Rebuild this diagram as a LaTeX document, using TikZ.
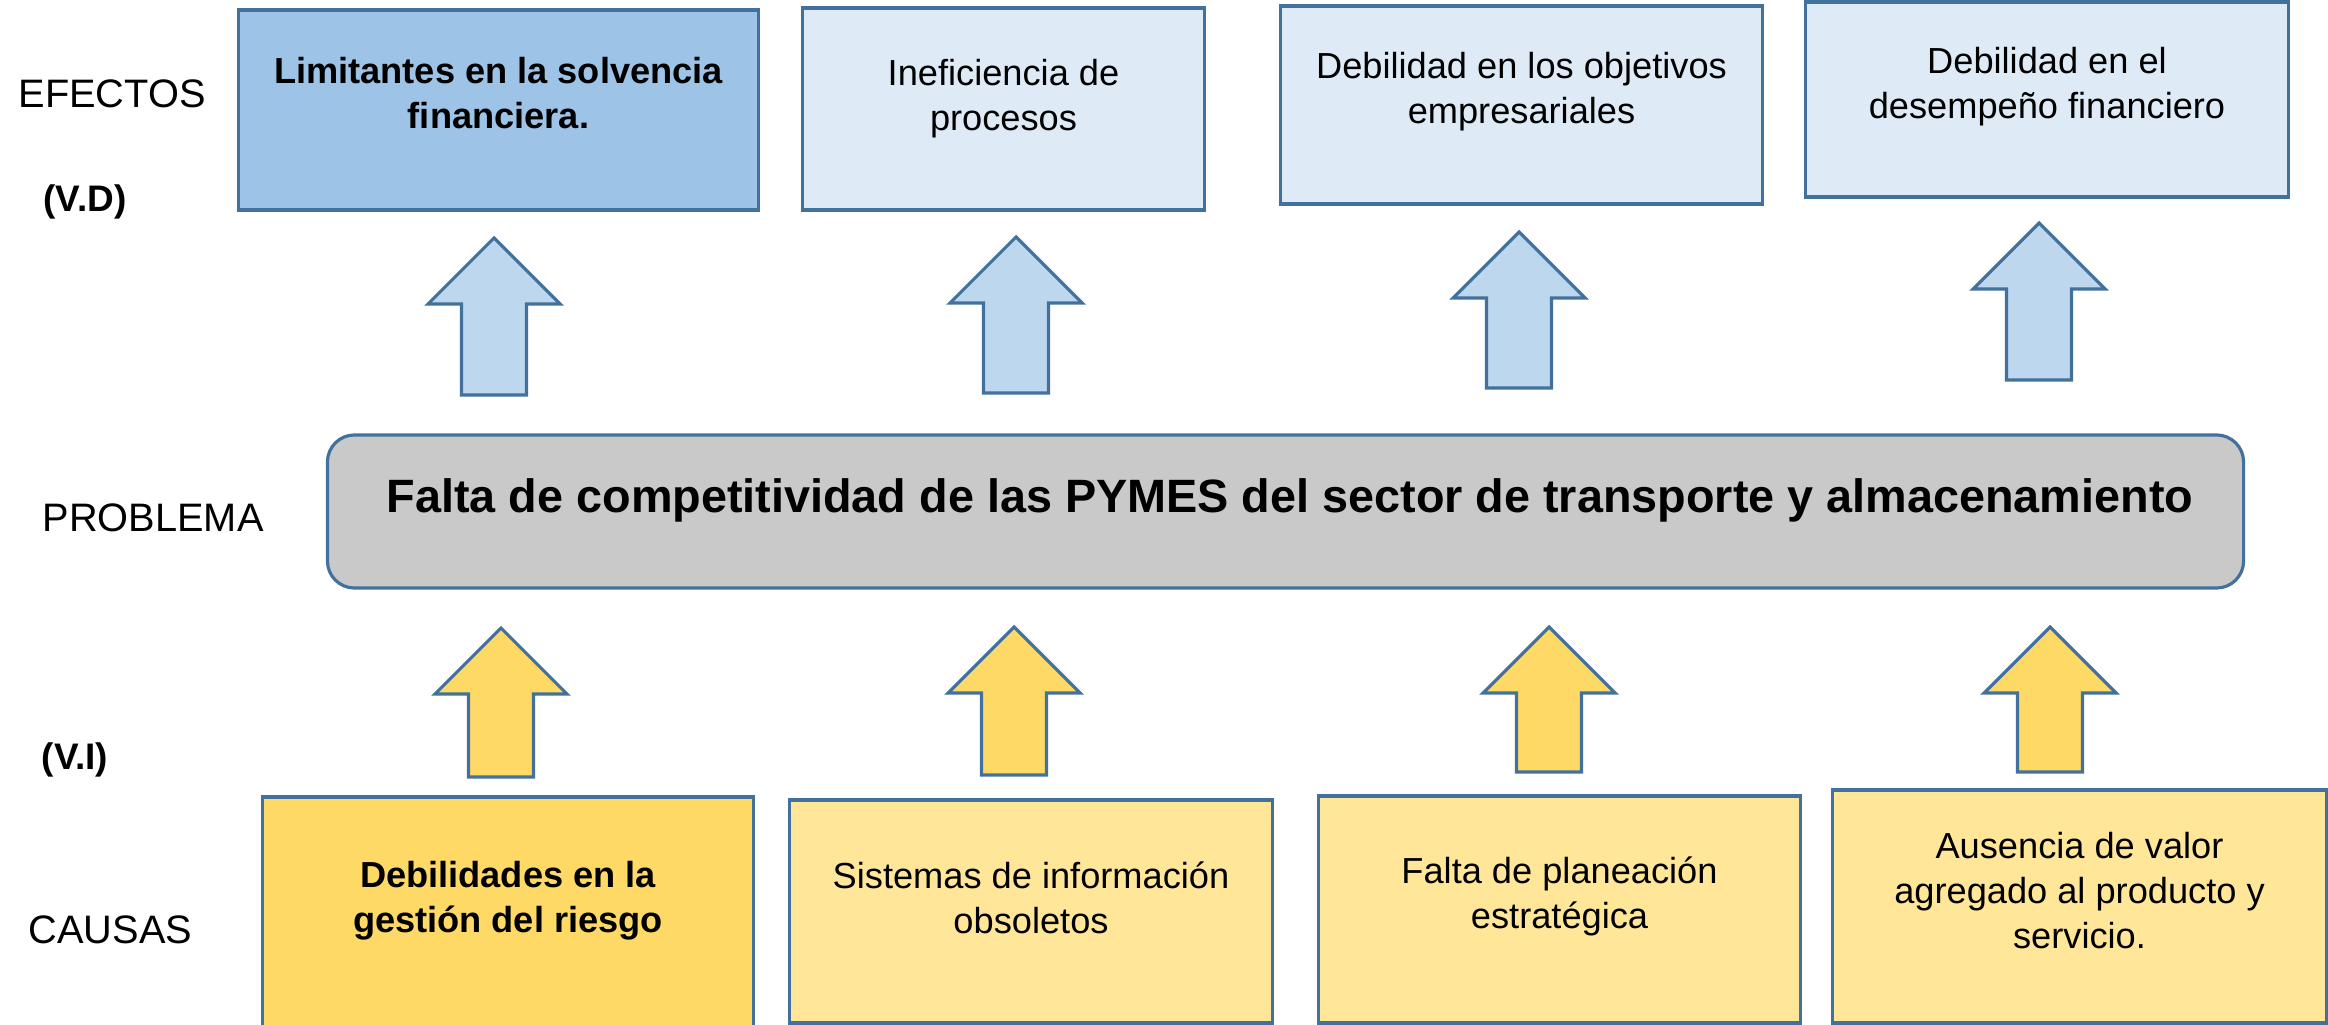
\documentclass[tikz,border=0pt]{standalone}
\usepackage{fontspec}
\setmainfont{Liberation Sans}

\definecolor{edge}{HTML}{41719C}
\definecolor{effdark}{HTML}{9DC3E6}
\definecolor{effpale}{HTML}{DEEBF7}
\definecolor{arrblue}{HTML}{BDD7EE}
\definecolor{probgray}{HTML}{C9C9C9}
\definecolor{caudark}{HTML}{FFD966}
\definecolor{caupale}{HTML}{FFE699}

\tikzset{
  box/.style={draw=edge, line width=0.9pt, inner sep=0pt},
  boxtxt/.style={align=center, inner sep=0pt, anchor=north,
    font=\fontsize{10.3}{12.8}\selectfont},
  sidelabel/.style={inner sep=0pt, anchor=base west,
    font=\fontsize{11.3}{13}\selectfont},
  varlabel/.style={inner sep=0pt, anchor=base west,
    font=\fontsize{10.5}{13}\selectfont\bfseries}
}

% block arrow pointing up: x, tip, bottom, fill
\newcommand{\uparrowblk}[4]{%
  \draw[draw=edge, line width=0.9pt, fill=#4]
    (#1,#2) -- (#1+66,#2+66) -- (#1+32.5,#2+66) -- (#1+32.5,#3)
    -- (#1-32.5,#3) -- (#1-32.5,#2+66) -- (#1-66,#2+66) -- cycle;}

\begin{document}
\begin{tikzpicture}[x=0.01cm, y=-0.01cm]
\useasboundingbox (0,0) rectangle (2328,1025);

% side labels
\node[sidelabel] (efectos) at (18,108) {EFECTOS};
\node[varlabel] (vd) at (43,212) {(V.D)};
\node[sidelabel] (problema) at (42,532) {PROBLEMA};
\node[varlabel] (vi) at (41,769) {(V.I)};
\node[sidelabel] (causas) at (28,943) {CAUSAS};

% effects
\node[box, fill=effdark, minimum width=5.19cm, minimum height=2cm] (e1) at (498.5,110) {};
\node[box, fill=effpale, minimum width=4.01cm, minimum height=2.02cm] (e2) at (1003.5,109) {};
\node[box, fill=effpale, minimum width=4.81cm, minimum height=1.98cm] (e3) at (1521.5,105) {};
\node[box, fill=effpale, minimum width=4.82cm, minimum height=1.95cm] (e4) at (2047,99.5) {};

\node[boxtxt, font=\fontsize{10.3}{12.8}\selectfont\bfseries] (e1t) at (498.5,57) {Limitantes en la solvencia\\financiera.};
\node[boxtxt] (e2t) at (1003.5,59) {Ineficiencia de\\procesos};
\node[boxtxt] (e3t) at (1521.5,52) {Debilidad en los objetivos\\empresariales};
\node[boxtxt] (e4t) at (2047,47) {Debilidad en el\\desempeño financiero};

\uparrowblk{494}{238}{395}{arrblue}
\uparrowblk{1016}{237}{393}{arrblue}
\uparrowblk{1519}{232}{388}{arrblue}
\uparrowblk{2039}{223}{380}{arrblue}

% problem
\node[box, fill=probgray, rounded corners=0.27cm, minimum width=19.15cm, minimum height=1.53cm] (prob) at (1285.5,511.5) {};
\node[inner sep=0pt, anchor=north, font=\fontsize{13.3}{16}\selectfont\bfseries] (probt) at (1290,478)
  {Falta de competitividad de las PYMES del sector de transporte y almacenamiento};

\uparrowblk{501}{628}{777}{caudark}
\uparrowblk{1014}{627}{775}{caudark}
\uparrowblk{1549}{627}{772}{caudark}
\uparrowblk{2050}{627}{772}{caudark}

% causes
\node[box, fill=caudark, minimum width=4.9cm, minimum height=2.4cm] (c1) at (508,917) {};
\node[box, fill=caupale, minimum width=4.82cm, minimum height=2.23cm] (c2) at (1031,911.5) {};
\node[box, fill=caupale, minimum width=4.81cm, minimum height=2.27cm] (c3) at (1559.5,909.5) {};
\node[box, fill=caupale, minimum width=4.93cm, minimum height=2.33cm] (c4) at (2079.5,906.5) {};

\node[boxtxt, font=\fontsize{10.3}{12.8}\selectfont\bfseries] (c1t) at (508,861) {Debilidades en la\\gestión del riesgo};
\node[boxtxt] (c2t) at (1031,861) {Sistemas de información\\obsoletos};
\node[boxtxt] (c3t) at (1559.5,856) {Falta de planeación\\estratégica};
\node[boxtxt] (c4t) at (2079.5,832) {Ausencia de valor\\agregado al producto y\\servicio.};

\end{tikzpicture}
\end{document}
